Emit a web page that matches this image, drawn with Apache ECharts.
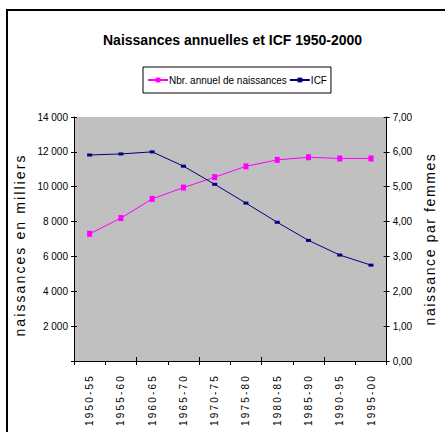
<!DOCTYPE html>
<html>
<head>
<meta charset="utf-8">
<script src="https://cdn.jsdelivr.net/npm/echarts@6/dist/echarts.min.js"></script>
<style>
html,body{margin:0;padding:0;background:#fff;}
#c{width:445px;height:432px;}
</style>
</head>
<body>
<div id="c"></div>
<script>
const categories = ['1950-55','1955-60','1960-65','1965-70','1970-75','1975-80','1980-85','1985-90','1990-95','1995-00'];
const births = [7300, 8200, 9300, 9950, 10550, 11170, 11540, 11690, 11620, 11620];
const icf = [5.91, 5.94, 6.00, 5.59, 5.07, 4.53, 3.98, 3.46, 3.04, 2.75];
const leftTicks = {min: 0, max: 14000, interval: 2000};
const rightTicks = {min: 0, max: 7, interval: 1};
const titleText = 'Naissances annuelles et ICF 1950-2000';
const seriesNames = ['Nbr. annuel de naissances', 'ICF'];
const leftName = 'naissances en milliers';
const rightName = 'naissance par femmes';

const SANS = "'Liberation Sans', Arial, sans-serif";

const chart = echarts.init(document.getElementById('c'), null, {renderer: 'svg'});

function fmtLeft(v){ if (v === 0) return ''; return String(v).replace(/\B(?=(\d{3})+(?!\d))/g, ' '); }
function fmtRight(v){ return v.toFixed(2).replace('.', ','); }

const grid = {left: 74, right: 49, top: 117, bottom: 71, show: true, backgroundColor: '#C0C0C0', borderWidth: 0};

const option = {
  animation: false,
  textStyle: {fontFamily: SANS},
  graphic: [{
    type: 'rect', silent: true, z: 100,
    shape: {x: 7, y: 10, width: 700, height: 700},
    style: {fill: 'none', stroke: '#000', lineWidth: 2}
  }],
  title: {
    text: titleText, left: 98, top: 28,
    textStyle: {fontFamily: SANS, fontWeight: 'bold', fontSize: 14, color: '#000'}
  },
  legend: {
    data: seriesNames, left: 143, top: 67,
    padding: [8, 4, 8, 4], itemGap: 2, itemWidth: 20, itemHeight: 6,
    borderColor: '#000', borderWidth: 1, backgroundColor: '#fff',
    textStyle: {fontFamily: SANS, fontSize: 10, color: '#000', padding: [0, 0, 0, -4]}
  },
  grid: grid,
  xAxis: [{
    type: 'category', data: categories, boundaryGap: true,
    axisLine: {show: true, lineStyle: {color: '#000', width: 1}},
    axisTick: {show: true, length: 4, lineStyle: {color: '#000'}},
    axisLabel: {rotate: 90, margin: 13, fontFamily: SANS, fontSize: 10, color: '#000', interval: 0},
    splitLine: {show: false}
  }, {
    type: 'category', data: categories, boundaryGap: true, position: 'bottom',
    axisLine: {show: false},
    axisTick: {show: true, inside: true, length: 4, lineStyle: {color: '#000'}},
    axisLabel: {show: false}, splitLine: {show: false}
  }],
  yAxis: [{
    type: 'value', position: 'left', min: leftTicks.min, max: leftTicks.max, interval: leftTicks.interval,
    name: leftName, nameLocation: 'middle', nameRotate: 90, nameGap: 39,
    nameTextStyle: {fontFamily: SANS, fontSize: 14, color: '#000', padding: [0, 0, 0, -12]},
    axisLine: {show: true, lineStyle: {color: '#000'}},
    axisTick: {show: true, length: 3, lineStyle: {color: '#000'}},
    axisLabel: {formatter: fmtLeft, fontFamily: SANS, fontSize: 10, color: '#000', margin: 6},
    splitLine: {show: false}
  }, {
    type: 'value', position: 'right', min: rightTicks.min, max: rightTicks.max, interval: rightTicks.interval,
    name: rightName, nameLocation: 'middle', nameRotate: 90, nameGap: 27,
    nameTextStyle: {fontFamily: SANS, fontSize: 14, color: '#000'},
    axisLine: {show: true, lineStyle: {color: '#000'}},
    axisTick: {show: true, length: 3, lineStyle: {color: '#000'}},
    axisLabel: {formatter: fmtRight, fontFamily: SANS, fontSize: 10, color: '#000', margin: 6},
    splitLine: {show: false}
  }, {
    type: 'value', position: 'left', min: leftTicks.min, max: leftTicks.max, interval: leftTicks.interval,
    axisLine: {show: false}, axisTick: {show: true, inside: true, length: 3, lineStyle: {color: '#000'}},
    axisLabel: {show: false}, splitLine: {show: false}
  }, {
    type: 'value', position: 'right', min: rightTicks.min, max: rightTicks.max, interval: rightTicks.interval,
    axisLine: {show: false}, axisTick: {show: true, inside: true, length: 3, lineStyle: {color: '#000'}},
    axisLabel: {show: false}, splitLine: {show: false}
  }],
  series: [{
    name: seriesNames[0], type: 'line', data: births, xAxisIndex: 0, yAxisIndex: 0,
    symbol: 'rect', symbolSize: [5, 6], color: '#FF00FF',
    lineStyle: {color: '#FF00FF', width: 1}, itemStyle: {color: '#FF00FF'}
  }, {
    name: seriesNames[1], type: 'line', data: icf, xAxisIndex: 0, yAxisIndex: 1,
    symbol: 'rect', symbolSize: [5, 3], color: '#000080',
    lineStyle: {color: '#000080', width: 1}, itemStyle: {color: '#000080'}
  }]
};
chart.setOption(option);

const norm = s => (s || '').replace(/\s+/g, '');
function applySpacing(){
  const texts = document.querySelectorAll('#c text, #c tspan');
  texts.forEach(t => {
    const s = norm(t.textContent);
    let sp = null;
    if (s === norm(leftName)) sp = '2.1px';
    else if (s === norm(rightName)) sp = '1.6px';
    else if (categories.indexOf(s) >= 0) sp = '2.2px';
    if (sp) { t.style.letterSpacing = sp; t.setAttribute('letter-spacing', sp); }
  });
}
applySpacing();
chart.on('finished', applySpacing);
setTimeout(applySpacing, 50);
setTimeout(applySpacing, 300);
</script>
</body>
</html>
